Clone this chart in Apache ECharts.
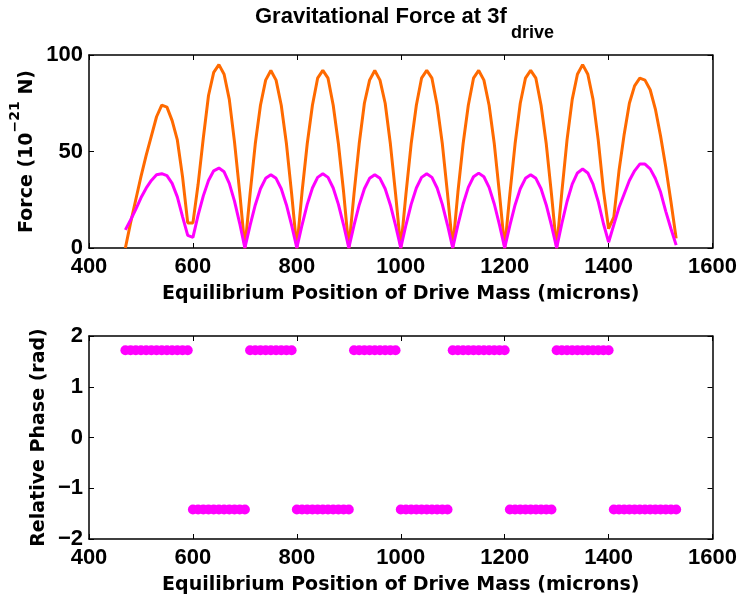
<!DOCTYPE html>
<html lang="en">
<head>
    <meta charset="utf-8">
    <title>Gravitational Force at 3f drive</title>
    <script src="https://cdn.jsdelivr.net/npm/echarts@6/dist/echarts.min.js"></script>
    <style type="text/css">
        html, body {
            margin: 0;
            padding: 0;
            background: #ffffff;
        }

        #main {
            width: 740px;
            height: 596px;
        }
    </style>
</head>
<body>
<div id="main"></div>
<script type="text/javascript">
    // drive mass equilibrium positions (microns)
    const positions = [
        470, 480, 490, 500, 510, 520, 530, 540, 550, 560, 570, 580, 590,
        600, 610, 620, 630, 640, 650, 660, 670, 680, 690, 700,
        710, 720, 730, 740, 750, 760, 770, 780, 790, 800,
        810, 820, 830, 840, 850, 860, 870, 880, 890, 900,
        910, 920, 930, 940, 950, 960, 970, 980, 990, 1000,
        1010, 1020, 1030, 1040, 1050, 1060, 1070, 1080, 1090, 1100,
        1110, 1120, 1130, 1140, 1150, 1160, 1170, 1180, 1190, 1200,
        1210, 1220, 1230, 1240, 1250, 1260, 1270, 1280, 1290, 1300,
        1310, 1320, 1330, 1340, 1350, 1360, 1370, 1380, 1390, 1400,
        1410, 1420, 1430, 1440, 1450, 1460, 1470, 1480, 1490, 1500, 1510, 1520, 1530
    ];

    // force, orange curve (10^-21 N)
    const forceOrange = [
        0, 13, 25, 37, 48, 58, 68, 74, 73, 66, 56, 37, 13,
        13, 33, 57, 79, 91, 95, 90, 77, 55, 29, 0,
        28, 54, 74, 87, 92, 87, 74, 54, 28, 0,
        29, 54, 74, 88, 92, 88, 74, 54, 29, 0,
        28, 54, 75, 87, 92, 87, 75, 54, 28, 0,
        28, 54, 74, 88, 92, 88, 74, 54, 28, 0,
        29, 54, 74, 88, 92, 87, 74, 54, 28, 0,
        28, 54, 75, 88, 92, 88, 74, 54, 28, 0,
        29, 56, 77, 90, 95, 90, 77, 56, 30, 10,
        16, 40, 59, 75, 84, 88, 87, 82, 72, 58, 42, 24, 5
    ];

    // force, magenta curve (10^-21 N)
    const forceMagenta = [
        9.4, 14.5, 20, 26, 31, 35, 38, 38.5, 37.5, 33.5, 26.5, 16.3, 6.5,
        5.5, 17, 27, 35, 40, 41.4, 39.5, 33.5, 24.3, 12.8, 0,
        11.7, 22.3, 30.7, 36.1, 38, 36.1, 30.7, 22.3, 11.7, 0,
        11.9, 22.6, 31.1, 36.6, 38.5, 36.6, 31.1, 22.6, 11.9, 0,
        11.7, 22.3, 30.7, 36.1, 38, 36.1, 30.7, 22.3, 11.7, 0,
        11.9, 22.6, 31.1, 36.6, 38.5, 36.6, 31.1, 22.6, 11.9, 0,
        12, 22.8, 31.4, 36.9, 38.8, 36.9, 31.4, 22.8, 12, 0,
        11.7, 22.3, 30.7, 36.1, 38, 36.1, 30.7, 22.3, 11.7, 0,
        12.7, 24.1, 33.1, 38.9, 40.9, 38.9, 33.1, 24.1, 12.7, 3,
        12, 21, 28, 35, 40, 43.5, 43.5, 41, 36, 29, 19, 10, 1.5
    ];

    // relative phase (rad)
    const phase = [
        1.72, 1.72, 1.72, 1.72, 1.72, 1.72, 1.72, 1.72, 1.72, 1.72, 1.72, 1.72, 1.72,
        -1.42, -1.42, -1.42, -1.42, -1.42, -1.42, -1.42, -1.42, -1.42, -1.42, -1.42,
        1.72, 1.72, 1.72, 1.72, 1.72, 1.72, 1.72, 1.72, 1.72, -1.42,
        -1.42, -1.42, -1.42, -1.42, -1.42, -1.42, -1.42, -1.42, -1.42, -1.42,
        1.72, 1.72, 1.72, 1.72, 1.72, 1.72, 1.72, 1.72, 1.72, -1.42,
        -1.42, -1.42, -1.42, -1.42, -1.42, -1.42, -1.42, -1.42, -1.42, 1.72,
        1.72, 1.72, 1.72, 1.72, 1.72, 1.72, 1.72, 1.72, 1.72, 1.72,
        -1.42, -1.42, -1.42, -1.42, -1.42, -1.42, -1.42, -1.42, -1.42, 1.72,
        1.72, 1.72, 1.72, 1.72, 1.72, 1.72, 1.72, 1.72, 1.72, 1.72,
        -1.42, -1.42, -1.42, -1.42, -1.42, -1.42, -1.42, -1.42, -1.42, -1.42, -1.42, -1.42, -1.42
    ];

    const TICK_FONT = 'Liberation Sans';
    const NAME_FONT = 'DejaVu Sans';
    const ORANGE = '#ff6a00';
    const MAGENTA = '#ff00ff';

    let pairs = function (ys) {
        return positions.map(function (x, i) {
            return [x, ys[i]];
        });
    };

    // plain numbers, no thousands separator, real minus sign
    let plainNumber = function (v) {
        return String(v).replace('-', '\u2212');
    };

    // bottom/left axes carry labels, top/right only close the box (matlab style)
    let xAxisOf = function (gridIndex, withText) {
        return {
            type: 'value',
            gridIndex: gridIndex,
            position: withText ? 'bottom' : 'top',
            min: 400,
            max: 1600,
            interval: 200,
            name: withText ? 'Equilibrium Position of Drive Mass (microns)' : '',
            nameLocation: 'middle',
            nameGap: 37,
            nameMoveOverlap: false,
            nameTextStyle: {fontFamily: NAME_FONT, fontWeight: 'bold', fontSize: 19, color: '#000'},
            axisLine: {show: true, onZero: false, lineStyle: {color: '#000', width: 1.5}},
            axisTick: {show: true, inside: true, length: 5, lineStyle: {color: '#000'}},
            axisLabel: {
                show: withText, margin: 8, color: '#000',
                fontFamily: TICK_FONT, fontWeight: 'bold', fontSize: 22,
                formatter: plainNumber
            },
            splitLine: {show: false}
        };
    };

    let yAxisOf = function (gridIndex, withText, min, max, interval, name, gap, rich) {
        return {
            type: 'value',
            gridIndex: gridIndex,
            position: withText ? 'left' : 'right',
            min: min,
            max: max,
            interval: interval,
            name: withText ? name : '',
            nameLocation: 'middle',
            nameRotate: 90,
            nameGap: gap,
            nameMoveOverlap: false,
            nameTextStyle: {
                fontFamily: NAME_FONT, fontWeight: 'bold', fontSize: 19, color: '#000',
                rich: rich
            },
            axisLine: {show: true, onZero: false, lineStyle: {color: '#000', width: 1.5}},
            axisTick: {show: true, inside: true, length: 5, lineStyle: {color: '#000'}},
            axisLabel: {
                show: withText, margin: 6, color: '#000',
                fontFamily: TICK_FONT, fontWeight: 'bold', fontSize: 22,
                formatter: plainNumber
            },
            splitLine: {show: false}
        };
    };

    // 10^-21 : superscript token raised with bottom padding (no own lineHeight,
    // so the padding counts in the line box)
    let forceRich = {
        n: {fontFamily: NAME_FONT, fontWeight: 'bold', fontSize: 19, verticalAlign: 'bottom', color: '#000'},
        s: {fontFamily: NAME_FONT, fontWeight: 'bold', fontSize: 14, verticalAlign: 'top', padding: [0, 0, 15, 0], color: '#000'}
    };

    let myChart = echarts.init(document.getElementById('main'), null, {renderer: 'canvas'});

    myChart.setOption({
        animation: false,
        backgroundColor: '#ffffff',
        title: [{
            text: 'Gravitational Force at 3f',
            left: 255,
            top: 6,
            padding: 0,
            textStyle: {fontFamily: TICK_FONT, fontWeight: 'bold', fontSize: 22, color: '#000'}
        }, {
            text: 'drive',
            left: 511,
            top: 24,
            padding: 0,
            textStyle: {fontFamily: TICK_FONT, fontWeight: 'bold', fontSize: 18, color: '#000'}
        }],
        grid: [
            {left: 89, top: 55, width: 624, height: 193},
            {left: 89, top: 336, width: 624, height: 206}
        ],
        xAxis: [
            xAxisOf(0, true),
            xAxisOf(0, false),
            xAxisOf(1, true),
            xAxisOf(1, false)
        ],
        yAxis: [
            yAxisOf(0, true, 0, 100, 50, '{n|Force (10}{s|\u221221}{n| N)}', 52, forceRich),
            yAxisOf(0, false, 0, 100, 50, '', 0, null),
            yAxisOf(1, true, -2, 2, 1, 'Relative Phase (rad)', 40, null),
            yAxisOf(1, false, -2, 2, 1, '', 0, null)
        ],
        series: [{
            type: 'line',
            xAxisIndex: 0,
            yAxisIndex: 0,
            data: pairs(forceOrange),
            showSymbol: false,
            lineStyle: {color: ORANGE, width: 3},
            itemStyle: {color: ORANGE}
        }, {
            type: 'line',
            xAxisIndex: 0,
            yAxisIndex: 0,
            data: pairs(forceMagenta),
            showSymbol: false,
            lineStyle: {color: MAGENTA, width: 3},
            itemStyle: {color: MAGENTA}
        }, {
            type: 'scatter',
            xAxisIndex: 2,
            yAxisIndex: 2,
            data: pairs(phase),
            symbol: 'circle',
            symbolSize: 10,
            itemStyle: {color: MAGENTA, opacity: 1, borderWidth: 0}
        }]
    });
</script>
</body>
</html>
